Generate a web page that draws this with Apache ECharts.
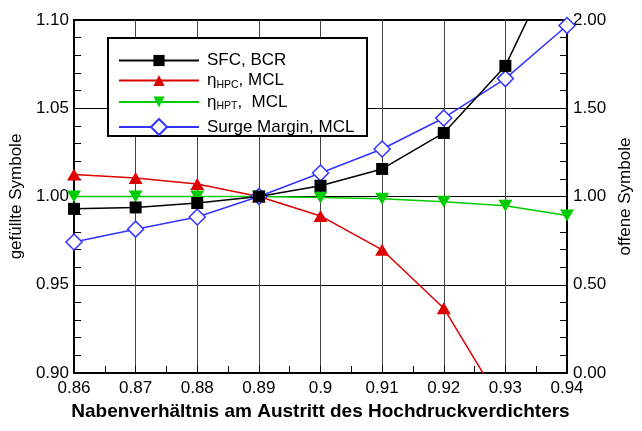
<!DOCTYPE html>
<html>
<head>
<meta charset="utf-8">
<script src="https://cdn.jsdelivr.net/npm/echarts@6/dist/echarts.min.js"></script>
<style>
  html, body { margin: 0; padding: 0; background: #fff; }
  #chart { width: 642px; height: 431px; }
</style>
</head>
<body>
<div id="chart"></div>
<script>
// Hub ratio at the high-pressure compressor exit
const hubRatio = [0.86, 0.87, 0.88, 0.89, 0.90, 0.91, 0.92, 0.93, 0.94];

// Filled symbols (left axis), normalised to the 0.89 design point
const sfcBcr  = [0.993, 0.9938, 0.9963, 1.000, 1.0061, 1.0156, 1.036, 1.074, 1.147];
const etaHpc  = [1.0124, 1.0105, 1.0071, 1.000, 0.989, 0.9698, 0.9367, 0.879];
const etaHpt  = [1.000, 1.000, 1.000, 1.000, 0.9995, 0.9987, 0.997, 0.9948, 0.9893];

// Open symbols (right axis)
const surgeMargin = [0.742, 0.815, 0.884, 1.000, 1.133, 1.269, 1.445, 1.668, 1.969];

const leftTicks  = ['0.90', '0.95', '1.00', '1.05', '1.10'];
const rightTicks = ['0.00', '0.50', '1.00', '1.50', '2.00'];

const FONT = 'Liberation Sans, Arial, sans-serif';

const pairs = (ys) => ys.map((y, i) => [hubRatio[i], y]);

const legendNames = {
  sfc: 'SFC, BCR',
  hpc: 'eta HPC',
  hpt: 'eta HPT',
  sm: 'Surge Margin, MCL'
};

const legendRich = {
  txt: { fontSize: 17, fontFamily: FONT, color: '#000' },
  sub: { fontSize: 10.5, fontFamily: FONT, color: '#000', padding: [9, 0, 0, 0] }
};

function legendLabel(name) {
  if (name === legendNames.hpc) return '{txt|η}{sub|HPC}{txt|, MCL}';
  if (name === legendNames.hpt) return '{txt|η}{sub|HPT}{txt|,  MCL}';
  return '{txt|' + name + '}';
}

const chart = echarts.init(document.getElementById('chart'), null, { renderer: 'canvas' });

const option = {
  animation: false,
  backgroundColor: '#fff',
  textStyle: { fontFamily: FONT },
  grid: {
    left: 74, top: 20, width: 499, height: 353,
    show: true, borderColor: '#000', borderWidth: 2, backgroundColor: 'transparent'
  },
  graphic: [{
    type: 'rect', z: 1,
    shape: { x: 108, y: 38, width: 259, height: 98 },
    style: { fill: '#fff', stroke: '#000', lineWidth: 2 }
  }],
  legend: [{
    data: [legendNames.sfc, legendNames.hpc, legendNames.hpt],
    orient: 'vertical', left: 113, top: 47,
    itemWidth: 80, itemHeight: 14, itemGap: 3,
    formatter: legendLabel,
    textStyle: { fontSize: 17, color: '#000', padding: [0, 0, 0, 3], rich: legendRich },
    z: 5
  }, {
    data: [legendNames.sm],
    orient: 'vertical', left: 113, top: 113,
    itemWidth: 80, itemHeight: 20,
    formatter: legendLabel,
    textStyle: { fontSize: 17, color: '#000', padding: [0, 0, 0, 3], rich: legendRich },
    z: 5
  }],
  xAxis: {
    type: 'value', min: 0.86, max: 0.94, interval: 0.01,
    name: 'Nabenverhältnis am Austritt des Hochdruckverdichters',
    nameLocation: 'middle', nameGap: 27,
    nameTextStyle: { fontSize: 19, fontWeight: 'bold', color: '#000', fontFamily: FONT },
    axisLine: { show: true, lineStyle: { color: '#000', width: 2 } },
    axisTick: { show: true, inside: true, length: 7, lineStyle: { color: '#000' } },
    minorTick: { show: true, splitNumber: 2, length: 7, lineStyle: { color: '#000' } },
    axisLabel: {
      fontSize: 17, color: '#000', margin: 7, fontFamily: FONT,
      formatter: (v) => String(Math.round(v * 100) / 100)
    },
    splitLine: { show: true, lineStyle: { color: '#444', width: 1 } }
  },
  yAxis: [{
    type: 'value', position: 'left', min: 0.90, max: 1.10, interval: 0.05,
    name: 'gefüllte Symbole', nameLocation: 'middle', nameGap: 42,
    nameTextStyle: { fontSize: 17, color: '#000', fontFamily: FONT },
    axisLine: { show: true, lineStyle: { color: '#000', width: 2 } },
    axisTick: { show: true, inside: true, length: 7, lineStyle: { color: '#000' } },
    minorTick: { show: true, splitNumber: 5, length: 7, lineStyle: { color: '#000' } },
    axisLabel: {
      fontSize: 17, color: '#000', margin: 5, fontFamily: FONT,
      formatter: (v) => leftTicks[Math.round((v - 0.90) / 0.05)]
    },
    splitLine: { show: true, lineStyle: { color: '#000', width: 1 } }
  }, {
    type: 'value', position: 'right', min: 0, max: 2, interval: 0.5,
    name: 'offene Symbole', nameLocation: 'middle', nameGap: 40,
    nameTextStyle: { fontSize: 17, color: '#000', fontFamily: FONT },
    axisLine: { show: true, lineStyle: { color: '#000', width: 2 } },
    axisTick: { show: true, inside: true, length: 7, lineStyle: { color: '#000' } },
    minorTick: { show: true, splitNumber: 5, length: 7, lineStyle: { color: '#000' } },
    axisLabel: {
      fontSize: 17, color: '#000', margin: 6, fontFamily: FONT,
      formatter: (v) => rightTicks[Math.round(v / 0.5)]
    },
    splitLine: { show: false }
  }],
  series: [{
    name: legendNames.sfc, type: 'line', yAxisIndex: 0,
    data: pairs(sfcBcr),
    symbol: 'rect', symbolSize: 12,
    lineStyle: { color: '#000', width: 1.5 },
    itemStyle: { color: '#000' },
    z: 4
  }, {
    name: legendNames.hpc, type: 'line', yAxisIndex: 0,
    data: pairs(etaHpc),
    symbol: 'triangle', symbolSize: [14, 12],
    lineStyle: { color: '#dd0000', width: 1.5 },
    itemStyle: { color: '#dd0000' },
    z: 3
  }, {
    name: legendNames.hpt, type: 'line', yAxisIndex: 0,
    data: pairs(etaHpt),
    symbol: 'triangle', symbolRotate: 180, symbolSize: [14, 12],
    lineStyle: { color: '#00cc00', width: 1.5 },
    itemStyle: { color: '#00cc00' },
    z: 3
  }, {
    name: legendNames.sm, type: 'line', yAxisIndex: 1,
    data: pairs(surgeMargin),
    symbol: 'diamond', symbolSize: 16, showAllSymbol: true,
    lineStyle: { color: '#3333ff', width: 1.5 },
    itemStyle: { color: '#ffffff', borderColor: '#3333ff', borderWidth: 1.5, opacity: 1 },
    z: 3
  }]
};

chart.setOption(option);
</script>
</body>
</html>
